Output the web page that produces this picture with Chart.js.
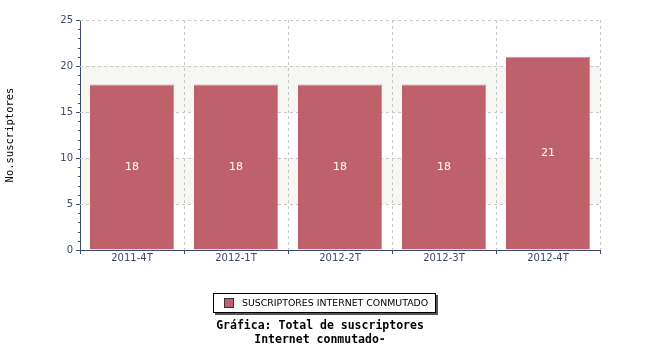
<!DOCTYPE html>
<html>
<head>
<meta charset="utf-8">
<script src="https://cdn.jsdelivr.net/npm/chart.js@4/dist/chart.umd.min.js"></script>
<style>
  html, body { margin: 0; padding: 0; background: #ffffff; }
  #wrap { width: 650px; height: 350px; position: relative; }
</style>
</head>
<body>
<div id="wrap"><canvas id="chart" width="650" height="350"></canvas></div>
<script>
  // Datos de la gráfica
  const categorias = ['2011-4T', '2012-1T', '2012-2T', '2012-3T', '2012-4T'];
  const suscriptores = [18, 18, 18, 18, 21];
  const serieNombre = 'SUSCRIPTORES INTERNET CONMUTADO';
  const tituloLineas = ['Gráfica: Total de suscriptores', 'Internet conmutado-'];
  const ejeY = { min: 0, max: 25, paso: 5 };

  const axisColor = '#3d4a6e';
  const gridColor = '#c8c8c8';
  const barColor = '#be616a';

  // Bandas alternas de fondo, marcas menores y etiquetas de valor
  const decoracion = {
    id: 'decoracion',
    beforeDatasetsDraw: function (chart) {
      const ctx = chart.ctx;
      const y = chart.scales.y;
      const area = chart.chartArea;
      ctx.save();
      ctx.fillStyle = '#f6f6f2';
      for (let v = ejeY.paso; v < ejeY.max; v += ejeY.paso * 2) {
        const top = y.getPixelForValue(v + ejeY.paso);
        const bot = y.getPixelForValue(v);
        ctx.fillRect(area.left + 1, top, area.right - area.left - 1, bot - top);
      }
      // lineas de grilla punteadas encima de las bandas
      ctx.strokeStyle = gridColor;
      ctx.setLineDash([3, 3]);
      ctx.lineWidth = 1;
      for (let v = ejeY.paso; v <= ejeY.max; v += ejeY.paso) {
        const py = Math.round(y.getPixelForValue(v)) + 0.5;
        ctx.beginPath();
        ctx.moveTo(area.left, py);
        ctx.lineTo(area.right, py);
        ctx.stroke();
      }
      const x = chart.scales.x;
      for (let i = 1; i <= categorias.length; i++) {
        const px = Math.round((x.getPixelForValue(i - 1) + x.getPixelForValue(i)) / 2);
        const edge = i === categorias.length ? area.right : px;
        ctx.beginPath();
        ctx.moveTo(edge + 0.5, area.top);
        ctx.lineTo(edge + 0.5, area.bottom);
        ctx.stroke();
      }
      ctx.restore();
    },
    afterDraw: function (chart) {
      const ctx = chart.ctx;
      const y = chart.scales.y;
      const area = chart.chartArea;
      ctx.save();
      // marcas menores del eje Y
      ctx.strokeStyle = axisColor;
      ctx.lineWidth = 1;
      for (let v = ejeY.min; v <= ejeY.max; v++) {
        const py = Math.round(y.getPixelForValue(v)) + 0.5;
        const len = v % ejeY.paso === 0 ? 4 : 2;
        ctx.beginPath();
        ctx.moveTo(area.left - len, py);
        ctx.lineTo(area.left, py);
        ctx.stroke();
      }
      // etiquetas de valor dentro de las barras
      const meta = chart.getDatasetMeta(0);
      ctx.fillStyle = '#ffffff';
      ctx.font = '11px "DejaVu Sans"';
      ctx.textAlign = 'center';
      ctx.textBaseline = 'middle';
      meta.data.forEach(function (bar, i) {
        ctx.fillText(String(suscriptores[i]), bar.x, (bar.y + bar.base) / 2);
      });

      // leyenda con sombra
      const lx = 213, ly = 293, lw = 223, lh = 20;
      ctx.fillStyle = '#555555';
      ctx.fillRect(lx + 2, ly + 2, lw, lh);
      ctx.fillStyle = '#ffffff';
      ctx.fillRect(lx, ly, lw, lh);
      ctx.strokeStyle = '#000000';
      ctx.strokeRect(lx + 0.5, ly + 0.5, lw - 1, lh - 1);
      ctx.fillStyle = barColor;
      ctx.fillRect(224, 298, 10, 10);
      ctx.strokeStyle = '#333333';
      ctx.strokeRect(224.5, 298.5, 9, 9);
      ctx.fillStyle = '#000000';
      ctx.font = '9.4px "DejaVu Sans"';
      ctx.textAlign = 'left';
      ctx.textBaseline = 'middle';
      ctx.fillText(chart.data.datasets[0].label, 242, 303.5);

      // titulo inferior
      ctx.font = 'bold 11.5px "DejaVu Sans Mono"';
      ctx.textAlign = 'center';
      ctx.textBaseline = 'alphabetic';
      ctx.fillText(tituloLineas[0], 320, 329);
      ctx.fillText(tituloLineas[1], 320, 343);
      ctx.restore();
    }
  };

  new Chart(document.getElementById('chart').getContext('2d'), {
    type: 'bar',
    data: {
      labels: categorias,
      datasets: [{
        label: serieNombre,
        data: suscriptores,
        backgroundColor: barColor,
        borderColor: '#b3979b',
        borderWidth: { top: 1, right: 1, left: 0, bottom: 0 },
        borderSkipped: false,
        categoryPercentage: 1,
        barPercentage: 0.81
      }]
    },
    options: {
      responsive: false,
      animation: false,
      layout: { padding: { left: 4, top: 20, right: 50, bottom: 80 } },
      plugins: {
        legend: { display: false },
        tooltip: { enabled: false }
      },
      scales: {
        x: {
          offset: true,
          grid: {
            offset: true,
            drawOnChartArea: false,
            drawTicks: true,
            tickLength: 4,
            tickColor: axisColor
          },
          border: { color: axisColor, width: 1 },
          ticks: {
            color: axisColor,
            font: { family: 'DejaVu Sans', size: 10 },
            padding: -2,
            maxRotation: 0
          },
          afterFit: function (scale) { scale.height = 20; }
        },
        y: {
          min: ejeY.min,
          max: ejeY.max,
          grid: { drawOnChartArea: false, drawTicks: false },
          border: { color: axisColor, width: 1 },
          ticks: {
            stepSize: ejeY.paso,
            color: axisColor,
            font: { family: 'DejaVu Sans', size: 10 },
            padding: 7
          },
          title: {
            display: true,
            text: 'No.suscriptores',
            color: '#000000',
            font: { family: 'DejaVu Sans Mono', size: 10.5 },
            padding: { top: 0, bottom: 0 }
          },
          afterFit: function (scale) { scale.width = 76; }
        }
      }
    },
    plugins: [decoracion]
  });
</script>
</body>
</html>
